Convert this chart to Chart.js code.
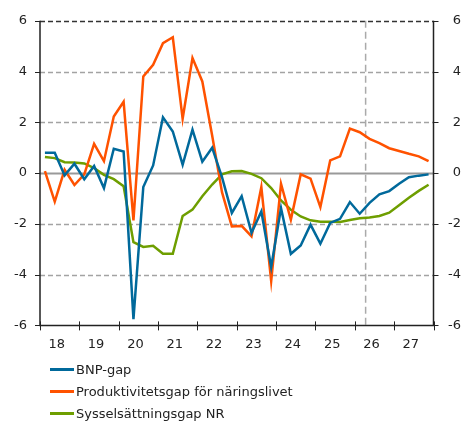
<!DOCTYPE html>
<html>
<head>
<meta charset="utf-8">
<script src="https://cdn.jsdelivr.net/npm/chart.js@4/dist/chart.umd.min.js"></script>
<style>
  body { margin: 0; background: #fff; }
  #wrap { position: relative; width: 461px; height: 422px; }
  #legend { position: absolute; left: 50px; top: 358px; font: 13px "DejaVu Sans", sans-serif; color: #222; }
  .row { height: 22px; display: flex; align-items: center; }
  .row span.ln { display: inline-block; width: 24px; height: 3px; margin-right: 2px; }
</style>
</head>
<body>
<div id="wrap">
  <canvas id="myChart" width="461" height="422"></canvas>
  <div id="legend"></div>
</div>
<script>
// year labels on the x-axis, one per 4 quarters (2018-2027)
var years = ['18', '19', '20', '21', '22', '23', '24', '25', '26', '27'];

// quarterly values, 2018Q1 - 2027Q4
var bnpGap = [0.80, 0.80, -0.09, 0.37, -0.24, 0.28, -0.59, 0.96, 0.85, -5.75,
    -0.55, 0.30, 2.20, 1.64, 0.33, 1.71, 0.45, 1.00, -0.16, -1.57,
    -0.91, -2.35, -1.51, -3.70, -1.38, -3.18, -2.85, -2.03, -2.78, -1.96,
    -1.80, -1.14, -1.60, -1.17, -0.84, -0.71, -0.42, -0.16, -0.10, -0.05];

var prodGap = [0.08, -1.12, 0.13, -0.47, -0.05, 1.15, 0.47, 2.23, 2.81, -1.86,
    3.81, 4.27, 5.12, 5.35, 2.14, 4.53, 3.61, 1.48, -0.75, -2.10,
    -2.08, -2.49, -0.55, -4.25, -0.42, -1.84, -0.05, -0.22, -1.34, 0.50,
    0.66, 1.75, 1.61, 1.35, 1.18, 0.98, 0.87, 0.76, 0.66, 0.47];

var sysGap = [0.63, 0.59, 0.43, 0.42, 0.38, 0.20, -0.07, -0.24, -0.52, -2.72,
    -2.91, -2.86, -3.18, -3.18, -1.69, -1.44, -0.91, -0.45, -0.05, 0.07,
    0.08, -0.03, -0.20, -0.59, -1.08, -1.44, -1.71, -1.86, -1.92, -1.92,
    -1.93, -1.85, -1.78, -1.75, -1.69, -1.56, -1.27, -0.97, -0.70, -0.46];

var seriesNames = ['BNP-gap', 'Produktivitetsgap för näringslivet', 'Sysselsättningsgap NR'];
var seriesColors = ['#00699b', '#ff5200', '#6e9e00'];

// where the forecast starts (in quarter index units)
var forecastStart = 32.6;

function toPoints(arr) {
    return arr.map(function (v, i) { return { x: i, y: v }; });
}

Chart.defaults.font.family = '"DejaVu Sans", sans-serif';
Chart.defaults.font.size = 13;
Chart.defaults.color = '#222';

var framePlugin = {
    id: 'frame',
    beforeDatasetsDraw: function (chart) {
        var ctx = chart.ctx, a = chart.chartArea;
        var x = chart.scales.x, y = chart.scales.y;
        ctx.save();
        ctx.lineWidth = 1.5;

        // horizontal grid lines
        y.ticks.forEach(function (t) {
            var py = Math.round(y.getPixelForValue(t.value)) + 0.5;
            ctx.beginPath();
            if (t.value === 0) {
                ctx.setLineDash([]);
                ctx.strokeStyle = '#999';
                ctx.lineWidth = 2;
            } else if (t.value === 6) {
                ctx.setLineDash([5, 3]);
                ctx.strokeStyle = '#333';
                ctx.lineWidth = 1.5;
            } else if (t.value === -6) {
                return;
            } else {
                ctx.setLineDash([5, 3]);
                ctx.strokeStyle = '#a3a3a3';
                ctx.lineWidth = 1.5;
            }
            ctx.moveTo(a.left, py);
            ctx.lineTo(a.right, py);
            ctx.stroke();
        });

        // forecast line
        var fx = x.getPixelForValue(forecastStart);
        ctx.beginPath();
        ctx.setLineDash([7, 4]);
        ctx.strokeStyle = '#aaa';
        ctx.lineWidth = 1.5;
        ctx.moveTo(fx, a.top);
        ctx.lineTo(fx, a.bottom);
        ctx.stroke();

        // axes
        ctx.setLineDash([]);
        ctx.strokeStyle = '#222';
        ctx.lineWidth = 1.5;
        ctx.beginPath();
        ctx.moveTo(a.left, a.top);
        ctx.lineTo(a.left, a.bottom);
        ctx.lineTo(a.right, a.bottom);
        ctx.lineTo(a.right, a.top);
        ctx.stroke();

        // y tick marks on both sides
        ctx.lineWidth = 1;
        y.ticks.forEach(function (t) {
            var py = Math.round(y.getPixelForValue(t.value)) + 0.5;
            ctx.beginPath();
            ctx.moveTo(a.left - 5, py);
            ctx.lineTo(a.left, py);
            ctx.moveTo(a.right, py);
            ctx.lineTo(a.right + 5, py);
            ctx.stroke();
        });

        // x tick marks at year boundaries
        for (var k = 0; k <= years.length; k++) {
            var px = Math.round(x.getPixelForValue(k * 4 - 0.5)) + 0.5;
            ctx.beginPath();
            ctx.moveTo(px, a.bottom - 4);
            ctx.lineTo(px, a.bottom + 5);
            ctx.stroke();
        }
        ctx.restore();
    }
};

var datasets = [bnpGap, prodGap, sysGap].map(function (arr, i) {
    return {
        label: seriesNames[i],
        data: toPoints(arr),
        borderColor: seriesColors[i],
        borderWidth: 2.5,
        pointRadius: 0,
        tension: 0,
        fill: false
    };
});

var ctx = document.getElementById('myChart');
var myChart = new Chart(ctx, {
    type: 'line',
    data: { datasets: datasets },
    options: {
        responsive: false,
        devicePixelRatio: 1,
        animation: false,
        layout: { padding: { top: 20, left: 0, right: 0, bottom: 59 } },
        plugins: { legend: { display: false }, tooltip: { enabled: false } },
        scales: {
            x: {
                type: 'linear',
                min: -0.5,
                max: 39.5,
                grid: { display: false, drawTicks: false },
                border: { display: false },
                afterBuildTicks: function (s) {
                    s.ticks = years.map(function (yr, k) { return { value: k * 4 + 1.2 }; });
                },
                ticks: {
                    padding: 11,
                    maxRotation: 0,
                    autoSkip: false,
                    callback: function (v) { return years[Math.round((v - 1.2) / 4)]; }
                }
            },
            y: {
                position: 'left',
                min: -6,
                max: 6,
                grid: { display: false, drawTicks: false },
                border: { display: false },
                ticks: { stepSize: 2, padding: 13 },
                afterFit: function (s) { s.width = 40; }
            },
            y2: {
                position: 'right',
                min: -6,
                max: 6,
                grid: { display: false, drawTicks: false },
                border: { display: false },
                ticks: { stepSize: 2, padding: 7, crossAlign: 'far' },
                afterFit: function (s) { s.width = 27.5; }
            }
        }
    },
    plugins: [framePlugin]
});

// legend below the chart
var legend = document.getElementById('legend');
seriesNames.forEach(function (name, i) {
    var row = document.createElement('div');
    row.className = 'row';
    row.innerHTML = '<span class="ln" style="background:' + seriesColors[i] + '"></span>' + name;
    legend.appendChild(row);
});
</script>
</body>
</html>
